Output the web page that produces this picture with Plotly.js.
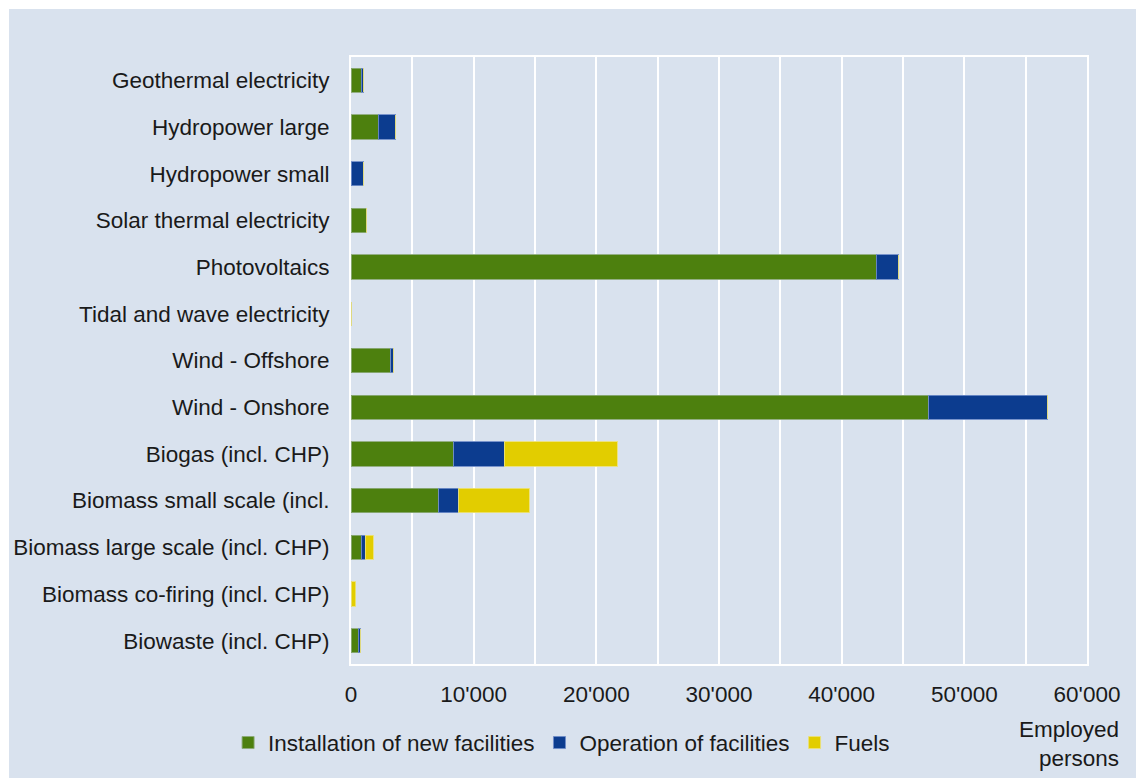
<!DOCTYPE html>
<html>
<head>
<meta charset="utf-8">
<script src="https://cdn.plot.ly/plotly-3.0.1.min.js"></script>
<style>
html,body{margin:0;padding:0;background:#ffffff;}
#chart{position:absolute;left:9px;top:9px;width:1127px;height:769px;}
</style>
</head>
<body>
<div id="chart"></div>
<script>
const categories = [
  "Geothermal electricity",
  "Hydropower large",
  "Hydropower small",
  "Solar thermal electricity",
  "Photovoltaics",
  "Tidal and wave electricity",
  "Wind - Offshore",
  "Wind - Onshore",
  "Biogas (incl. CHP)",
  "Biomass small scale (incl.",
  "Biomass large scale (incl. CHP)",
  "Biomass co-firing (incl. CHP)",
  "Biowaste (incl. CHP)"
];
const installation = [820, 2230, 0, 1300, 42800, 0, 3260, 47100, 8380, 7150, 820, 30, 600];
const operation    = [200, 1420, 1000, 0, 1850, 0, 190, 9650, 4100, 1640, 350, 0, 190];
const fuels        = [0, 0, 0, 0, 0, 0, 0, 0, 9220, 5740, 650, 350, 0];
const seriesNames = ["Installation of new facilities", "Operation of facilities", "Fuels"];
const tickValues = [0, 10000, 20000, 30000, 40000, 50000, 60000];
const tickLabels = ["0", "10'000", "20'000", "30'000", "40'000", "50'000", "60'000"];
const unitLabel = "Employed<br>persons";

const colors = ["#4d800e", "#0c3c8f", "#e2cd00"];
const lineColors = ["rgba(140,170,120,0.9)", "rgba(110,140,200,0.9)", "rgba(235,225,120,0.9)"];
const seriesValues = [installation, operation, fuels];

const traces = seriesValues.map((vals, i) => ({
  type: "bar",
  orientation: "h",
  name: seriesNames[i],
  x: vals,
  y: categories,
  marker: {color: colors[i], line: {color: lineColors[i], width: 1}},
  hoverinfo: "x+y+name"
}));

const fam = "Liberation Sans, Arial, sans-serif";
const fs = 22.5;
const font = {family: fam, size: fs, color: "#1a1a1a"};

const layout = {
  width: 1127,
  height: 769,
  barmode: "stack",
  bargap: 0.48,
  paper_bgcolor: "#d9e2ee",
  plot_bgcolor: "#d9e2ee",
  font: font,
  margin: {l: 342, r: 49, t: 48, b: 114},
  showlegend: true,
  legend: {
    orientation: "h",
    x: -0.167, xanchor: "left",
    y: -0.13, yanchor: "middle",
    font: {family: fam, size: fs, color: "#1a1a1a"},
    bgcolor: "rgba(0,0,0,0)",
    traceorder: "normal"
  },
  xaxis: {
    range: [0, 60000],
    tickvals: tickValues,
    ticktext: tickLabels,
    showgrid: true,
    gridcolor: "#ffffff",
    gridwidth: 2,
    minor: {dtick: 5000, showgrid: true, gridcolor: "#ffffff", gridwidth: 2},
    showline: true,
    linecolor: "#ffffff",
    linewidth: 2,
    mirror: true,
    zeroline: false,
    ticks: "",
    ticklabelstandoff: 9,
    tickfont: {family: fam, size: fs, color: "#1a1a1a"},
    fixedrange: true
  },
  yaxis: {
    type: "category",
    categoryorder: "array",
    categoryarray: categories,
    autorange: "reversed",
    showgrid: false,
    showline: true,
    linecolor: "#ffffff",
    linewidth: 2,
    mirror: true,
    zeroline: false,
    ticks: "",
    ticklabelstandoff: 15,
    tickfont: {family: fam, size: fs, color: "#1a1a1a"},
    fixedrange: true
  },
  annotations: [{
    text: unitLabel,
    xref: "paper", yref: "paper",
    x: 1.046, y: -0.132,
    xanchor: "right", yanchor: "middle",
    align: "right",
    showarrow: false,
    font: {family: fam, size: fs, color: "#1a1a1a"}
  }]
};

Plotly.newPlot("chart", traces, layout, {displayModeBar: false, staticPlot: true});
</script>
</body>
</html>
